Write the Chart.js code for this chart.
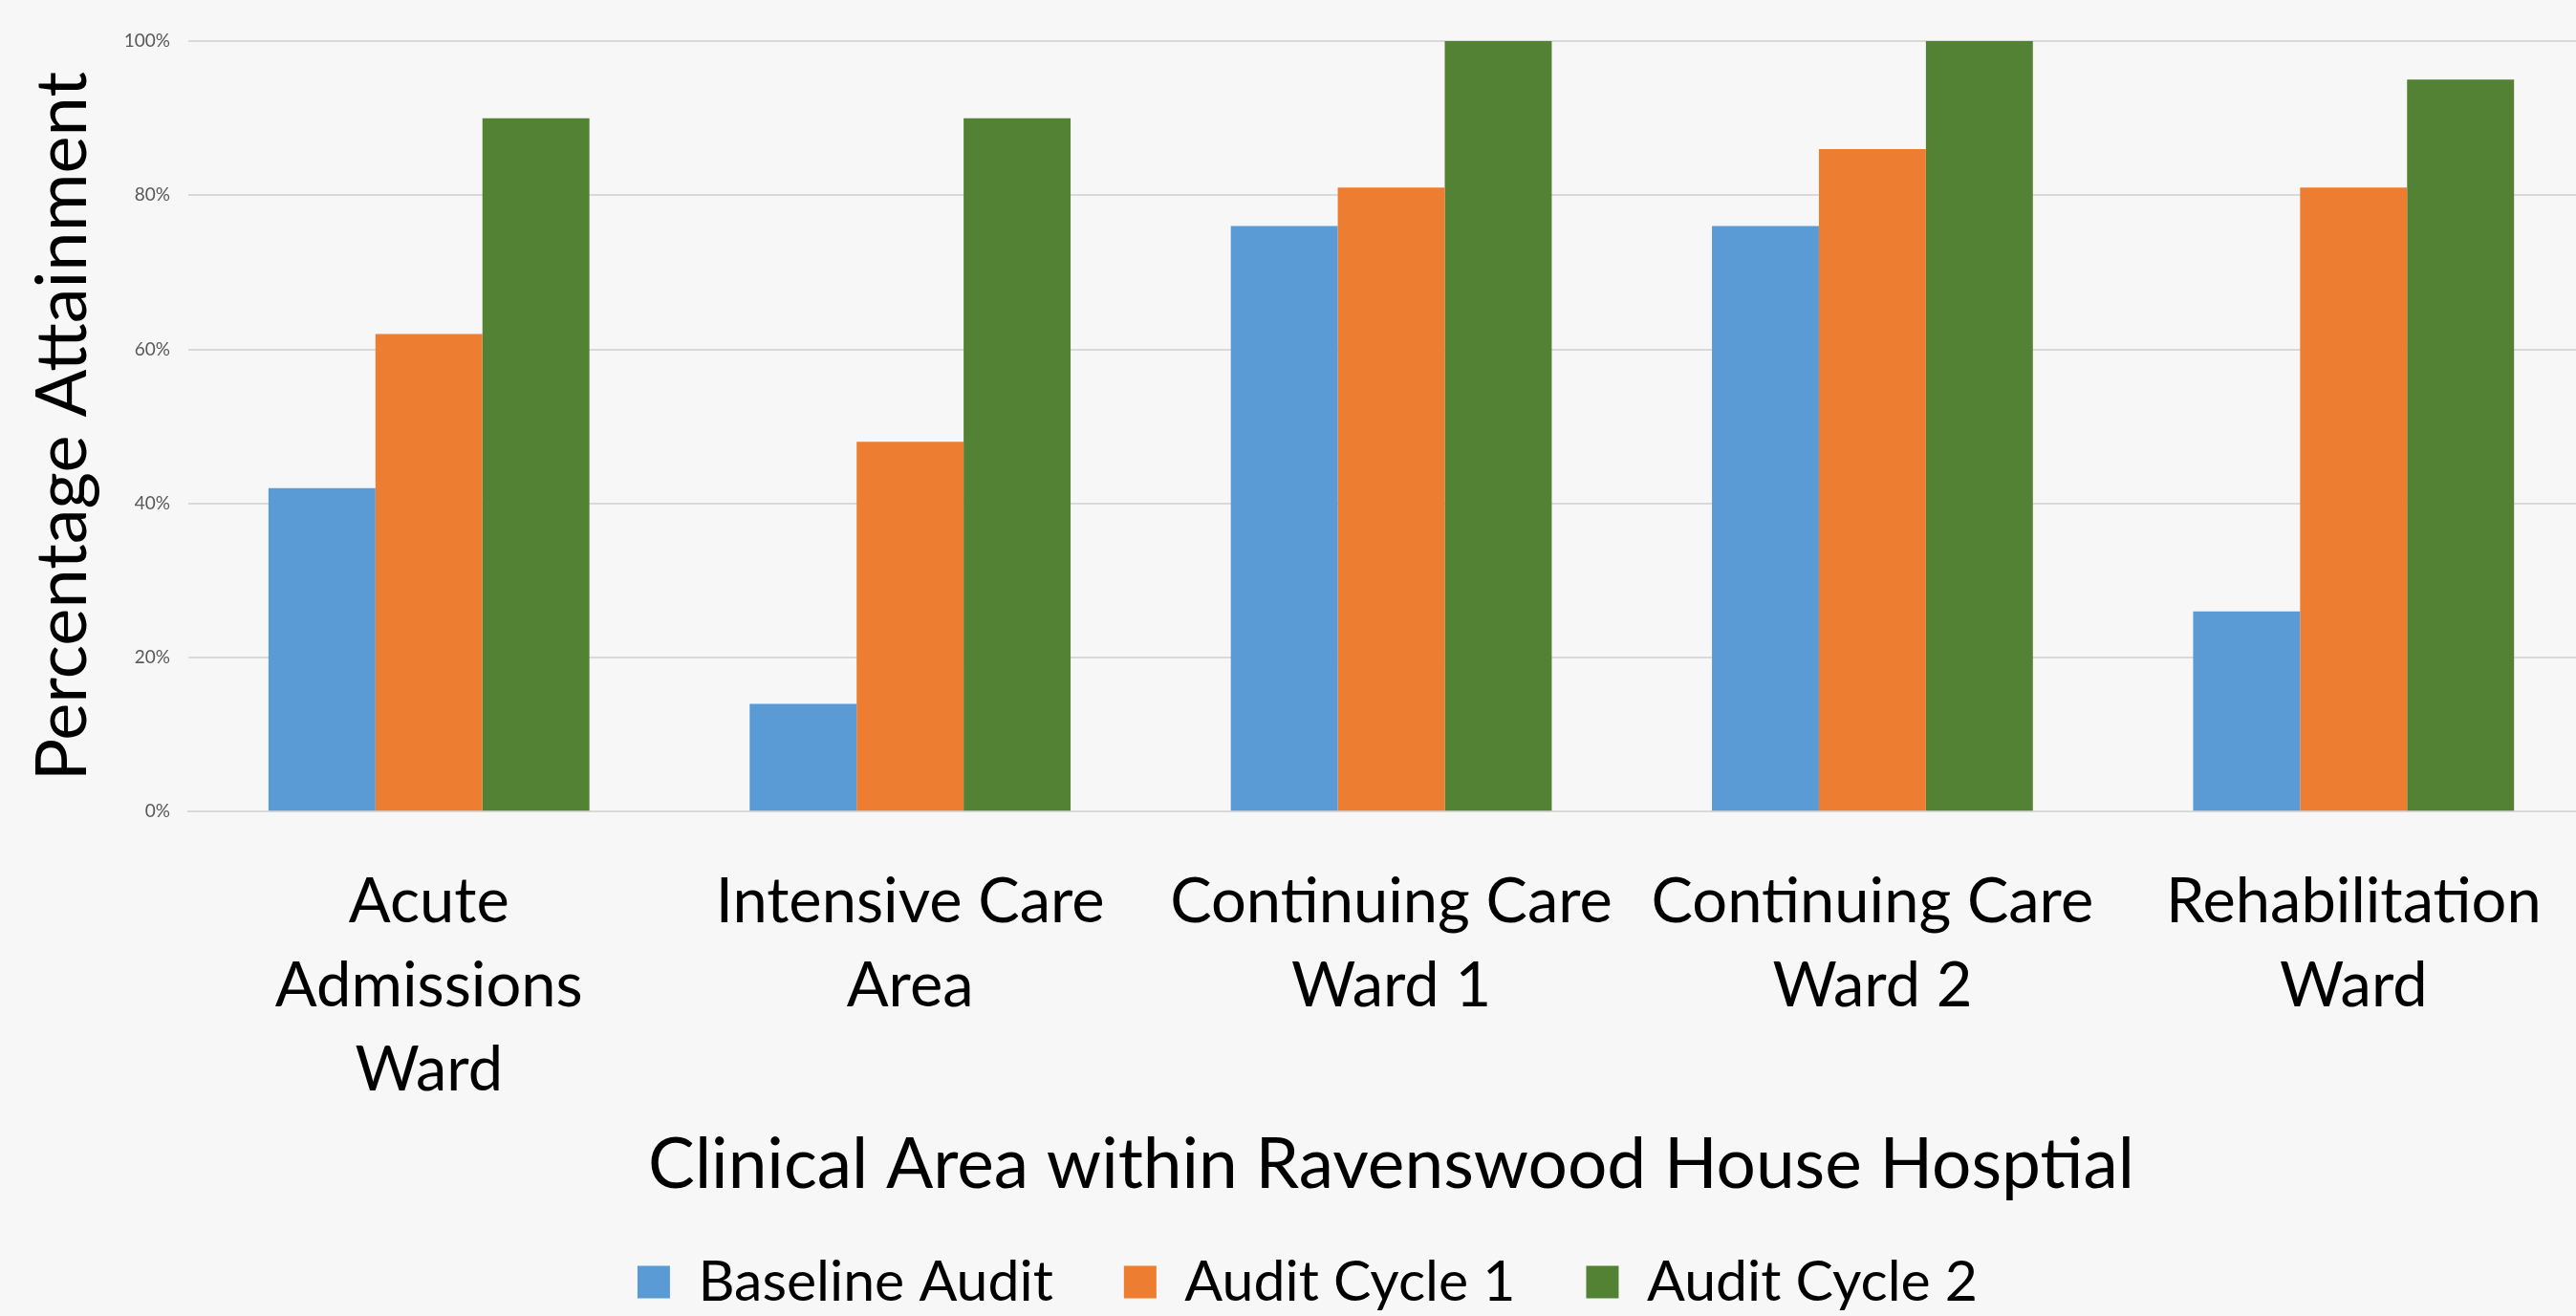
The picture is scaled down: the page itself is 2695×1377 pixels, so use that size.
<!DOCTYPE html>
<html>
<head>
<meta charset="utf-8">
<script src="https://cdn.jsdelivr.net/npm/chart.js@4.4.1/dist/chart.umd.min.js"></script>
<style>
  html, body { margin: 0; padding: 0; background: #f7f7f7; overflow: hidden; }
  /* the original plot runs a little past the right edge, so the canvas is wider than the window */
  #wrap { width: 2695px; height: 1377px; overflow: hidden; }
</style>
</head>
<body>
<div id="wrap"><canvas id="chart" width="2714" height="1377"></canvas></div>
<script>
// Clinical areas (x axis), split into lines the way the original wraps them
const areas = [
  ["Acute", "Admissions", "Ward"],
  ["Intensive Care", "Area"],
  ["Continuing Care", "Ward 1"],
  ["Continuing Care", "Ward 2"],
  ["Rehabilitation", "Ward"]
];

// Percentage attainment per audit round
const baselineAudit = [42, 14, 76, 76, 26];
const auditCycle1 = [62, 48, 81, 86, 81];
const auditCycle2 = [90, 90, 100, 100, 95];

const yTicks = [0, 20, 40, 60, 80, 100];

const fontFamily = "Lato, 'Noto Sans', sans-serif";

const ctx = document.getElementById("chart").getContext("2d");
new Chart(ctx, {
  type: "bar",
  data: {
    labels: areas,
    datasets: [
      { label: "Baseline Audit", data: baselineAudit, backgroundColor: "#5b9bd5" },
      { label: "Audit Cycle 1", data: auditCycle1, backgroundColor: "#ed7d31" },
      { label: "Audit Cycle 2", data: auditCycle2, backgroundColor: "#548235" }
    ]
  },
  plugins: [{
    id: "bg",
    beforeDraw(chart) {
      const c = chart.ctx;
      c.save();
      c.fillStyle = "#f7f7f7";
      c.fillRect(0, 0, chart.width, chart.height);
      c.restore();
    }
  }],
  options: {
    responsive: false,
    animation: false,
    layout: { padding: { top: 43, right: 0, bottom: -4, left: 22 } },
    datasets: {
      bar: { categoryPercentage: 0.667, barPercentage: 1.0 }
    },
    scales: {
      x: {
        grid: { display: false, drawTicks: false },
        border: { display: true, color: "#d9d9d9", width: 2 },
        ticks: {
          color: "#000",
          padding: 51,
          maxRotation: 0,
          autoSkip: false,
          font: { family: fontFamily, size: 65, lineHeight: 1.354 }
        },
        title: {
          display: true,
          text: "Clinical Area within Ravenswood House Hosptial",
          color: "#000",
          font: { family: fontFamily, size: 73 },
          padding: { top: -40, bottom: -25 }
        }
      },
      y: {
        min: 0,
        max: 100,
        afterBuildTicks(scale) {
          scale.ticks = yTicks.map(v => ({ value: v }));
        },
        grid: { color: "#d9d9d9", lineWidth: 2, drawTicks: false },
        border: { display: false },
        ticks: {
          color: "#595959",
          padding: 19,
          font: { family: fontFamily, size: 19 },
          callback: v => v + "%"
        },
        title: {
          display: true,
          text: "Percentage Attainment",
          color: "#000",
          font: { family: fontFamily, size: 74 },
          padding: { top: 0, bottom: 0 }
        }
      }
    },
    plugins: {
      legend: {
        position: "bottom",
        labels: {
          color: "#000",
          boxWidth: 34,
          boxHeight: 34,
          padding: 74,
          font: { family: fontFamily, size: 59 }
        }
      },
      tooltip: { enabled: false }
    }
  }
});
</script>
</body>
</html>
